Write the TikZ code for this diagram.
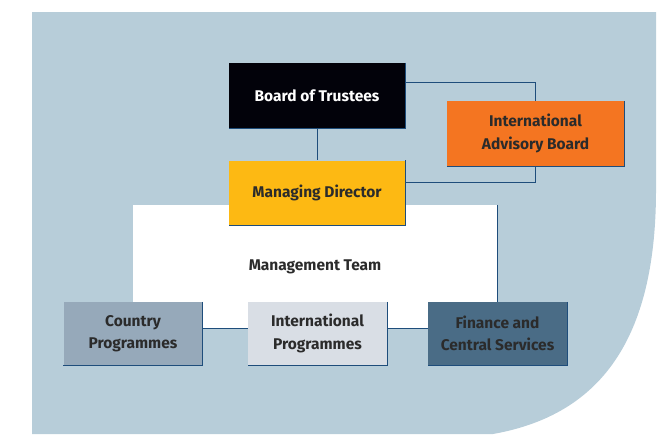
\documentclass[tikz,border=0pt]{standalone}
\usepackage{fontspec}
\setmainfont{Fira Sans}
\usetikzlibrary{positioning}
\definecolor{bgblue}{HTML}{B7CDD9}
\definecolor{linkblue}{HTML}{1E4D7B}
\definecolor{inkgray}{HTML}{2B2B2B}
\definecolor{boardblack}{HTML}{02020A}
\definecolor{advorange}{HTML}{F47521}
\definecolor{mdyellow}{HTML}{FDB913}
\definecolor{cpblue}{HTML}{96A9BA}
\definecolor{ipgray}{HTML}{D9DEE5}
\definecolor{finblue}{HTML}{4A6C86}

\begin{document}
\begin{tikzpicture}[x=1pt,y=-1pt,
    unit/.style={minimum width=176pt,minimum height=65pt,inner sep=0pt,
      align=center,text=inkgray,font=\bfseries\fontsize{15.5}{22.5}\selectfont},
    dept/.style={unit,minimum width=139pt,minimum height=63pt},
    link/.style={draw=linkblue,line width=1pt}]
  \useasboundingbox (0,0) rectangle (658,434);
  \fill[bgblue] (32,12) -- (656,12) -- (656,190)
    .. controls (656,340) and (600,415) .. (493,434) -- (32,434) -- cycle;

  \node[fill=white,minimum width=364pt,minimum height=123pt,inner sep=0pt,
    text=inkgray,font=\bfseries\fontsize{15.5}{22.5}\selectfont] (team) at (315,266.5) {Management Team};

  \node[unit,fill=boardblack,text=white] (bot) at (317,95.5) {Board of Trustees};
  \node[unit,fill=mdyellow] (md) at (317,193) {Managing Director};
  \node[unit,fill=advorange,minimum width=177pt] (iab) at (535.5,133.5) {International\\Advisory Board};

  \node[dept,fill=cpblue] (cp) at (133,333.5) {Country\\Programmes};
  \node[dept,fill=ipgray] (ip) at (317.5,333.5) {International\\Programmes};
  \node[dept,fill=finblue] (fin) at (497.5,333.5) {Finance and\\Central Services};

  \draw[link] (bot.south) -- (md.north);
  \draw[link] ([yshift=13pt]bot.east) -| (iab.north);
  \draw[link] (iab.south) |- ([yshift=11pt]md.east);
  \draw[link] (team.north east) -- (team.north east |- fin.north);
  \draw[link] ([yshift=5.5pt]cp.east) -- ([yshift=5.5pt]ip.west);
  \draw[link] ([yshift=5.5pt]ip.east) -- ([yshift=5.5pt]fin.west);

  \foreach \n in {bot,md,iab,cp,ip,fin}
    \draw[link] (\n.north east) -- (\n.south east) -- (\n.south west);
\end{tikzpicture}
\end{document}
